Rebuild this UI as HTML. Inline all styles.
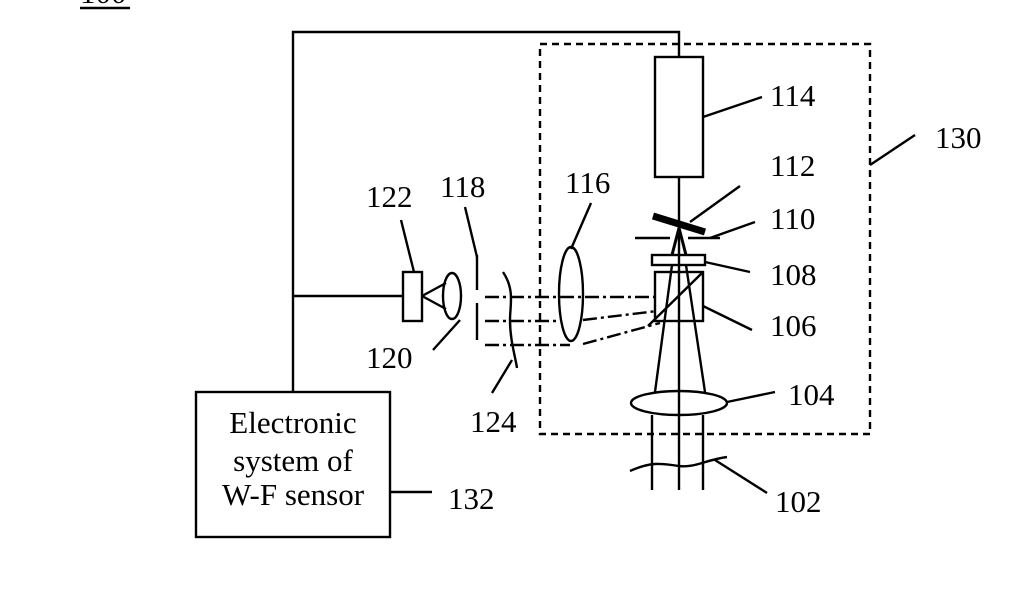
<!DOCTYPE html>
<html><head><meta charset="utf-8"><style>
html,body{margin:0;padding:0;background:#fff;}
svg{display:block;}
text{font-family:"Liberation Serif",serif;font-size:31px;fill:#000;}
</style></head><body>
<svg width="1024" height="600" viewBox="0 0 1024 600" xmlns="http://www.w3.org/2000/svg">
<g stroke="#000" stroke-width="2.4" fill="none">
<line x1="80" y1="8" x2="130" y2="8"/>
<rect x="540" y="44" width="330" height="390" stroke-dasharray="7,5"/>
<polyline points="679,57 679,32 293,32 293,392"/>
<line x1="293" y1="296" x2="403" y2="296"/>
<rect x="196" y="392" width="194" height="145"/>
<line x1="390" y1="492" x2="432" y2="492"/>
<rect x="655" y="57" width="48" height="120"/>
<line x1="679" y1="177" x2="679" y2="490"/>
<line x1="703" y1="117" x2="762" y2="97"/>
<line x1="653" y1="216" x2="705" y2="232" stroke-width="7"/>
<line x1="690" y1="222" x2="740" y2="186"/>
<line x1="635" y1="238" x2="670" y2="238"/>
<line x1="688" y1="238" x2="720" y2="238"/>
<line x1="710" y1="238" x2="755" y2="222"/>
<line x1="672" y1="255" x2="679" y2="228" stroke-width="3"/>
<line x1="686" y1="255" x2="679" y2="228" stroke-width="3"/>
<rect x="652" y="255" width="53" height="10"/>
<line x1="705" y1="262" x2="750" y2="272"/>
<rect x="655" y="272" width="48" height="49"/>
<line x1="648" y1="326" x2="703" y2="272"/>
<line x1="703" y1="306" x2="752" y2="330"/>
<line x1="655" y1="392" x2="672" y2="265"/>
<line x1="705" y1="392" x2="686" y2="265"/>
<ellipse cx="679" cy="403" rx="48" ry="12"/>
<line x1="727" y1="402" x2="775" y2="392"/>
<line x1="652" y1="415" x2="652" y2="490"/>
<line x1="703" y1="415" x2="703" y2="490"/>
<path d="M630,471 C650,462 660,463 679,466 C695,468 705,460 727,457"/>
<line x1="715" y1="460" x2="767" y2="493"/>
<ellipse cx="571" cy="294" rx="12" ry="47"/>
<line x1="571" y1="249" x2="591" y2="203"/>
<g stroke-dasharray="14,4,3,4">
<line x1="485" y1="297" x2="660" y2="297"/>
<line x1="485" y1="321" x2="560" y2="321"/>
<line x1="485" y1="345" x2="570" y2="345"/>
<line x1="583" y1="320" x2="657" y2="311"/>
<line x1="583" y1="344" x2="660" y2="323"/>
</g>
<path d="M503,272 C515,290 510,305 510,320 C510,340 515,355 517,368"/>
<line x1="512" y1="360" x2="492" y2="393"/>
<line x1="477" y1="255" x2="477" y2="290"/>
<line x1="477" y1="303" x2="477" y2="340"/>
<line x1="465" y1="207" x2="477" y2="257"/>
<ellipse cx="452" cy="296" rx="9" ry="23"/>
<line x1="433" y1="350" x2="460" y2="320"/>
<rect x="403" y="272" width="19" height="49"/>
<line x1="422" y1="296" x2="446" y2="283"/>
<line x1="422" y1="296" x2="446" y2="309"/>
<line x1="401" y1="220" x2="414" y2="272"/>
<line x1="870" y1="165" x2="915" y2="135"/>
</g>
<text x="80" y="3">100</text>
<text x="770" y="106">114</text>
<text x="770" y="176">112</text>
<text x="770" y="229">110</text>
<text x="770" y="285">108</text>
<text x="770" y="336">106</text>
<text x="788" y="405">104</text>
<text x="775" y="512">102</text>
<text x="935" y="148">130</text>
<text x="565" y="193">116</text>
<text x="440" y="197">118</text>
<text x="366" y="207">122</text>
<text x="366" y="368">120</text>
<text x="470" y="432">124</text>
<text x="448" y="509">132</text>
<text x="293" y="433" text-anchor="middle">Electronic</text>
<text x="293" y="471" text-anchor="middle">system of</text>
<text x="293" y="505" text-anchor="middle">W-F sensor</text>
<text x="538" y="622">Fig.1</text>
</svg>
</body></html>
